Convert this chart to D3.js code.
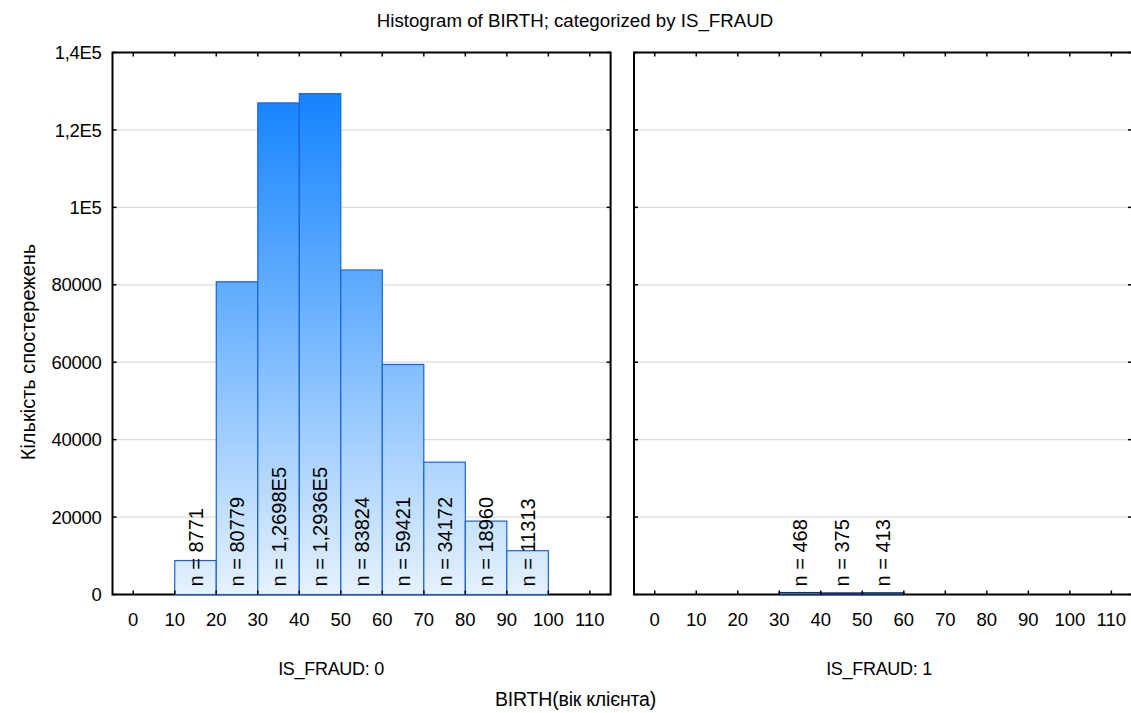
<!DOCTYPE html>
<html>
<head>
<meta charset="utf-8">
<script src="https://cdn.jsdelivr.net/npm/d3@7"></script>
<style>
  html, body { margin: 0; padding: 0; background: #fff; }
  svg { display: block; font-family: "Liberation Sans", Arial, sans-serif; }
</style>
</head>
<body>
<svg id="chart" width="1131" height="713"></svg>
<script>
// ---- data ----
const binStarts0 = [0, 10, 20, 30, 40, 50, 60, 70, 80, 90];
const counts0    = [0, 8771, 80779, 126980, 129360, 83824, 59421, 34172, 18960, 11313];
const binStarts1 = [0, 10, 20, 30, 40, 50, 60, 70, 80, 90, 100];
const counts1    = [0, 0, 0, 468, 375, 413, 0, 0, 0, 0, 0];
const binWidth = 10;
const xTicks = [0, 10, 20, 30, 40, 50, 60, 70, 80, 90, 100, 110];
const yTicks = [0, 20000, 40000, 60000, 80000, 100000, 120000, 140000];
const yTickLabels = ["0", "20000", "40000", "60000", "80000", "1E5", "1,2E5", "1,4E5"];
const panelLabels = ["IS_FRAUD: 0", "IS_FRAUD: 1"];
const chartTitle = "Histogram of BIRTH; categorized by IS_FRAUD";
const xTitle = "BIRTH(вік клієнта)";
const yTitle = "Кількість спостережень";

// ---- layout ----
const svg = d3.select("#chart");
const plotTop = 52.5, plotBottom = 594.5;
const panels = [
  { x0: 112.5, x1: 610.6, bins: binStarts0, counts: counts0, yLabels: true, label: panelLabels[0], labelX: 331 },
  { x0: 634, x1: 1132.1, bins: binStarts1, counts: counts1, yLabels: false, label: panelLabels[1], labelX: 879 }
];
const y = d3.scaleLinear().domain([0, 140000]).range([plotBottom, plotTop]);

const defs = svg.append("defs");
const grad = defs.append("linearGradient").attr("id", "barGrad")
  .attr("gradientUnits", "userSpaceOnUse")
  .attr("x1", 0).attr("x2", 0).attr("y1", y(0)).attr("y2", y(130000));
grad.append("stop").attr("offset", 0).attr("stop-color", "#e6f2ff");
grad.append("stop").attr("offset", 0.55).attr("stop-color", "#6db3ff");
grad.append("stop").attr("offset", 1).attr("stop-color", "#1483ff");

function fmtN(v) {
  if (v >= 100000) return "n = " + (v / 1e5).toFixed(4).replace(".", ",") + "E5";
  return "n = " + v;
}

panels.forEach(p => {
  const x = d3.scaleLinear().domain([-5, 115]).range([p.x0, p.x1]);
  const g = svg.append("g");

  // gridlines
  g.selectAll(".grid").data(yTicks.filter(t => t > 0 && t < 140000)).enter()
    .append("line")
    .attr("x1", p.x0).attr("x2", p.x1)
    .attr("y1", d => y(d)).attr("y2", d => y(d))
    .attr("stroke", "#dcdcdc").attr("stroke-width", 1.2);

  // frame
  g.append("rect")
    .attr("x", p.x0).attr("y", plotTop)
    .attr("width", p.x1 - p.x0).attr("height", plotBottom - plotTop)
    .attr("fill", "none").attr("stroke", "#000").attr("stroke-width", 2);

  // bars (drawn over the frame so zero-height bins show as a dark line)
  const data = p.bins.map((b, i) => ({ b, v: p.counts[i] }));
  g.selectAll(".bar").data(data).enter().append("rect")
    .attr("x", d => x(d.b))
    .attr("width", d => x(d.b + binWidth) - x(d.b))
    .attr("y", d => y(d.v))
    .attr("height", d => y(0) - y(d.v))
    .attr("fill", "url(#barGrad)")
    .attr("stroke", d => d.v < 2000 ? "#0f2f70" : "#1a62dc")
    .attr("stroke-width", d => d.v < 2000 ? 1.5 : 1.2);

  // x ticks (inward, top and bottom)
  xTicks.forEach(t => {
    g.append("line").attr("x1", x(t)).attr("x2", x(t))
      .attr("y1", plotBottom).attr("y2", plotBottom - 4).attr("stroke", "#000").attr("stroke-width", 1.5);
    g.append("line").attr("x1", x(t)).attr("x2", x(t))
      .attr("y1", plotTop).attr("y2", plotTop + 4).attr("stroke", "#000").attr("stroke-width", 1.5);
  });
  g.selectAll(".xt").data(xTicks).enter().append("text")
    .attr("x", d => x(d)).attr("y", plotBottom + 31)
    .attr("text-anchor", "middle").attr("font-size", "18.5px").attr("fill", "#000")
    .text(d => d);

  // y ticks (inward, left and right)
  yTicks.forEach(t => {
    g.append("line").attr("x1", p.x0).attr("x2", p.x0 + 4)
      .attr("y1", y(t)).attr("y2", y(t)).attr("stroke", "#000").attr("stroke-width", 1.5);
    g.append("line").attr("x1", p.x1).attr("x2", p.x1 - 4)
      .attr("y1", y(t)).attr("y2", y(t)).attr("stroke", "#000").attr("stroke-width", 1.5);
  });
  if (p.yLabels) {
    g.selectAll(".yt").data(yTicks).enter().append("text")
      .attr("x", p.x0 - 11).attr("y", d => y(d)).attr("dy", "0.36em")
      .attr("text-anchor", "end").attr("font-size", "18.5px").attr("fill", "#000")
      .attr("letter-spacing", "-0.3px")
      .text((d, i) => yTickLabels[i]);
  }

  // n labels
  g.selectAll(".nl").data(data.filter(d => d.v > 0)).enter().append("text")
    .attr("transform", d => `translate(${x(d.b + binWidth / 2)},${plotBottom - 8}) rotate(-90)`)
    .attr("dy", "0.36em")
    .attr("text-anchor", "start").attr("font-size", "20px").attr("fill", "#000")
    .text(d => fmtN(d.v));

  // panel label
  g.append("text").attr("x", p.labelX).attr("y", 675)
    .attr("text-anchor", "middle").attr("font-size", "18px").attr("fill", "#000")
    .attr("letter-spacing", "-0.3px")
    .text(p.label);
});

// titles
svg.append("text").attr("x", 575).attr("y", 27)
  .attr("text-anchor", "middle").attr("font-size", "18.7px").attr("fill", "#000")
  .text(chartTitle);
svg.append("text").attr("x", 575.5).attr("y", 706)
  .attr("text-anchor", "middle").attr("font-size", "19.5px").attr("fill", "#000")
  .attr("letter-spacing", "-0.2px")
  .text(xTitle);
svg.append("text")
  .attr("transform", "translate(35,352) rotate(-90)")
  .attr("text-anchor", "middle").attr("font-size", "20px").attr("fill", "#000")
  .text(yTitle);
</script>
</body>
</html>
